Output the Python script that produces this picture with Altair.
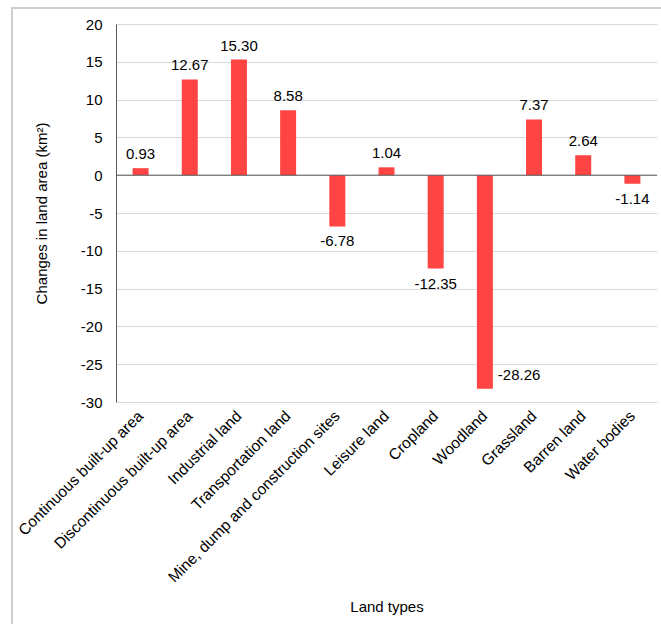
import altair as alt
import pandas as pd

land_types = [
    "Continuous built-up area",
    "Discontinuous built-up area",
    "Industrial land",
    "Transportation land",
    "Mine, dump and construction sites",
    "Leisure land",
    "Cropland",
    "Woodland",
    "Grassland",
    "Barren land",
    "Water bodies",
]
changes = [0.93, 12.67, 15.30, 8.58, -6.78, 1.04, -12.35, -28.26, 7.37, 2.64, -1.14]
y_ticks = [-30, -25, -20, -15, -10, -5, 0, 5, 10, 15, 20]

df = pd.DataFrame({"type": land_types, "value": changes})

FONT = "Liberation Sans"
FS = 15
W, H = 541, 378

y_scale = alt.Scale(domain=[-30, 20], nice=False, zero=False)
x_scale = alt.Scale(paddingInner=0.675, paddingOuter=0.3375)

x_axis = alt.Axis(
    title="Land types",
    labelAngle=-45,
    labelAlign="right",
    labelBaseline="middle",
    labelFontSize=15.5,
    labelFont=FONT,
    labelColor="#000000",
    labelPadding=11,
    labelLimit=400,
    ticks=False,
    domain=False,
    titleFont=FONT,
    titleFontSize=FS,
    titleFontWeight="normal",
    titleColor="#000000",
    titlePadding=14,
)

y_axis = alt.Axis(
    title="Changes in land area (km²)",
    values=y_ticks,
    labelExpr="datum.value + ''",
    labelOverlap=False,
    grid=True,
    gridColor="#d9d9d9",
    gridWidth=1,
    domain=True,
    domainColor="#595959",
    ticks=False,
    labelFont=FONT,
    labelFontSize=FS,
    labelColor="#000000",
    labelPadding=14,
    titleFont=FONT,
    titleFontSize=FS,
    titleFontWeight="normal",
    titleColor="#000000",
    titlePadding=31,
)

X = alt.X("type:N", sort=land_types, scale=x_scale, axis=x_axis)
Y = alt.Y("value:Q", scale=y_scale, axis=y_axis)

bars = alt.Chart(df).mark_bar(color="#FF4444").encode(x=X, y=Y)

zero_df = pd.DataFrame({"z": [0]})
zero_line = alt.Chart(zero_df).mark_rule(color="#595959", strokeWidth=1).encode(
    y=alt.Y("z:Q", scale=y_scale, axis=y_axis)
)

label_base = alt.Chart(df).transform_calculate(
    label="replace(format(datum.value, '.2f'), '\u2212', '-')"
)


def text_enc(chart):
    return chart.encode(x=X, y=Y, text=alt.Text("label:N"))


pos_labels = text_enc(
    label_base.transform_filter("datum.value >= 0").mark_text(
        baseline="bottom", dy=-6, fontSize=FS, font=FONT, color="#000000"
    )
)

neg_labels = text_enc(
    label_base.transform_filter("datum.value < 0 && datum.type != 'Woodland'").mark_text(
        baseline="top", dy=8, fontSize=FS, font=FONT, color="#000000"
    )
)

wood_label = text_enc(
    label_base.transform_filter("datum.type == 'Woodland'").mark_text(
        align="left", baseline="middle", dx=13, dy=-14, fontSize=FS, font=FONT, color="#000000"
    )
)

frame = alt.Chart(zero_df).mark_rect(
    fill=None, stroke="#c0c0c0", strokeWidth=1.5
).encode(
    x=alt.value(-104), x2=alt.value(560), y=alt.value(-16), y2=alt.value(620)
)

chart = (
    alt.layer(bars, zero_line, pos_labels, neg_labels, wood_label, frame)
    .properties(
        width=W,
        height=H,
        autosize=alt.AutoSizeParams(type="none"),
        padding={"left": 116, "top": 24, "right": 4, "bottom": 222},
        background="white",
    )
    .configure_view(stroke=None)
)

chart.save("out.html", embed_options={"renderer": "svg", "actions": False})
